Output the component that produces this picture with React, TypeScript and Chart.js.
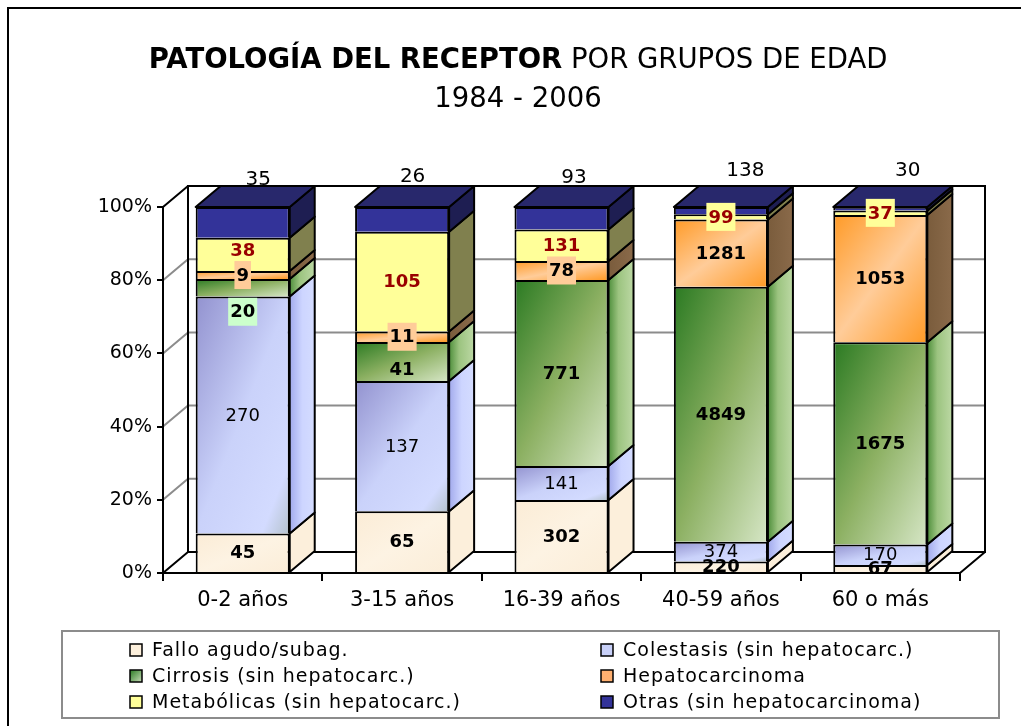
import { useEffect, useRef } from 'react';
import { Chart, registerables } from 'chart.js';

Chart.register(...registerables);

// ---------- data ----------
const categories = ['0-2 años', '3-15 años', '16-39 años', '40-59 años', '60 o más'];
const fallo = [45, 65, 302, 220, 67];
const colestasis = [270, 137, 141, 374, 170];
const cirrosis = [20, 41, 771, 4849, 1675];
const hepatocarcinoma = [9, 11, 78, 1281, 1053];
const metabolicas = [38, 105, 131, 99, 37];
const otras = [35, 26, 93, 138, 30];
const seriesNames = [
  'Fallo agudo/subag.',
  'Colestasis (sin hepatocarc.)',
  'Cirrosis (sin hepatocarc.)',
  'Hepatocarcinoma',
  'Metabólicas (sin hepatocarc.)',
  'Otras (sin hepatocarcinoma)',
];
const seriesValues = [fallo, colestasis, cirrosis, hepatocarcinoma, metabolicas, otras];
const yTicks = [0, 20, 40, 60, 80, 100];
const titleBold = 'PATOLOGÍA DEL RECEPTOR';
const titleNormal = ' POR GRUPOS DE EDAD';
const subtitle = '1984 - 2006';

// ---------- derived (percent stacking) ----------
const totals = categories.map((_, i) => seriesValues.reduce((s, v) => s + v[i], 0));
const percents = seriesValues.map((v) => v.map((x, i) => (x / totals[i]) * 100));

// ---------- styles ----------
const FONT = '"DejaVu Sans", Verdana, sans-serif';
const DX = 25;
const DY = -21;
const BAR_PCT = 0.59;
type Stops = [number, string][];
const frontStops: Stops[] = [
  [[0, '#fbecd6'], [0.5, '#fdf3e3'], [1, '#fbedd8']],
  [[0, '#9292cf'], [0.5, '#cad2fa'], [0.85, '#d3dbff'], [1, '#b4c2cc']],
  [[0, '#2a7a22'], [0.5, '#8cb062'], [1, '#d6e6c6']],
  [[0, '#ff9a26'], [0.5, '#ffcc99'], [1, '#ff9a26']],
  [[0, '#ffff99'], [1, '#ffff99']],
  [[0, '#333399'], [1, '#333399']],
];
const sideStops: Stops[] = [
  [[0, '#fcefdb'], [1, '#fcefdb']],
  [[0, '#a2aaec'], [0.5, '#cdd5ff'], [1, '#d4dcff']],
  [[0, '#4f8f3c'], [0.4, '#9cc480'], [1, '#bcd8a4']],
  [[0, '#7a5c3c'], [1, '#8a6a4a']],
  [[0, '#80804e'], [1, '#80804e']],
  [[0, '#1e1e52'], [1, '#1e1e52']],
];
const topColor = '#28286c';
const legendColors = ['#fdf0dc', '#c8d0f8', '#3f8a36', '#ffb070', '#ffff99', '#333399'];
const labelFonts = [
  `bold 18px ${FONT}`,
  `18px ${FONT}`,
  `bold 18px ${FONT}`,
  `bold 18px ${FONT}`,
  `bold 18px ${FONT}`,
  `20px ${FONT}`,
];
const labelColors = ['#000', '#000', '#000', '#000', '#990000', '#000'];
const labelBoxColors = [null, null, '#ccffcc', '#ffcc99', '#ffff99', null];
const labelBoxed: number[][] = [[], [], [0], [0, 1, 2], [3, 4], []];
const labelNudgeY: number[][] = [
  [0, 0, 0, 0, 0],
  [0, 0, 0, 0, 0],
  [24, 8, 0, 0, 0],
  [0, 0, 0, 0, 0],
  [-4, 0, 0, 0, 0],
  [2, -1, 0, -7, -7],
];
const labelNudgeX = [3, -2, 0, 12, 15];

function grad(ctx: CanvasRenderingContext2D, x0: number, y0: number, x1: number, y1: number, stops: Stops) {
  const g = ctx.createLinearGradient(x0, y0, x1, y1);
  stops.forEach(([o, c]) => g.addColorStop(o, c));
  return g;
}

// "to bottom right" style gradient: iso-lines parallel to the anti-diagonal
function diagGrad(ctx: CanvasRenderingContext2D, l: number, t: number, w: number, h: number, stops: Stops) {
  const d = Math.sqrt(w * w + h * h) || 1;
  const len = (2 * w * h) / d;
  const ux = h / d;
  const uy = w / d;
  return grad(ctx, l, t, l + ux * len, t + uy * len, stops);
}

function poly(ctx: CanvasRenderingContext2D, pts: number[][], fill: any) {
  ctx.beginPath();
  ctx.moveTo(pts[0][0], pts[0][1]);
  for (let k = 1; k < pts.length; k++) ctx.lineTo(pts[k][0], pts[k][1]);
  ctx.closePath();
  ctx.fillStyle = fill;
  ctx.fill();
  ctx.stroke();
}

function frontFill(c: any, s: number) {
  const chart = c.chart;
  const area = chart.chartArea;
  if (!area || c.type !== 'data') return frontStops[s][1][1];
  const i = c.dataIndex;
  const xs = chart.scales.x;
  const ys = chart.scales.y;
  const w = ((xs.right - xs.left) / categories.length) * BAR_PCT;
  const cx = xs.getPixelForValue(i);
  let below = 0;
  for (let k = 0; k < s; k++) below += percents[k][i];
  const yTop = ys.getPixelForValue(below + percents[s][i]);
  const yBot = ys.getPixelForValue(below);
  return diagGrad(chart.ctx, cx - w / 2, yTop, w, Math.max(1, yBot - yTop), frontStops[s]);
}

const deco = {
  id: 'deco3d',
  beforeDraw(chart: any) {
    const ctx: CanvasRenderingContext2D = chart.ctx;
    const a = chart.chartArea;
    const ys = chart.scales.y;
    ctx.save();
    ctx.fillStyle = '#fff';
    ctx.fillRect(0, 0, chart.width, chart.height);
    // outer frame
    ctx.strokeStyle = '#000';
    ctx.lineWidth = 2;
    ctx.beginPath();
    ctx.moveTo(8, chart.height);
    ctx.lineTo(8, 8);
    ctx.lineTo(chart.width, 8);
    ctx.stroke();
    // title
    ctx.fillStyle = '#000';
    ctx.textBaseline = 'alphabetic';
    ctx.textAlign = 'left';
    ctx.font = `bold 27.5px ${FONT}`;
    const wb = ctx.measureText(titleBold).width;
    ctx.font = `27.5px ${FONT}`;
    const wn = ctx.measureText(titleNormal).width;
    const x0 = 518 - (wb + wn) / 2;
    ctx.font = `bold 27.5px ${FONT}`;
    ctx.fillText(titleBold, x0, 68);
    ctx.font = `27.5px ${FONT}`;
    ctx.fillText(titleNormal, x0 + wb, 68);
    ctx.textAlign = 'center';
    ctx.fillText(subtitle, 518, 107);
    // walls
    const L = a.left, R = a.right, T = a.top, B = a.bottom;
    ctx.lineCap = 'round';
    ctx.strokeStyle = '#8c8c8c';
    ctx.lineWidth = 2;
    for (const t of yTicks) {
      if (t === 0 || t === 100) continue;
      const py = ys.getPixelForValue(t);
      ctx.beginPath();
      ctx.moveTo(L, py);
      ctx.lineTo(L + DX, py + DY);
      ctx.lineTo(R + DX, py + DY);
      ctx.stroke();
    }
    ctx.strokeStyle = '#000';
    ctx.lineWidth = 2;
    ctx.strokeRect(L + DX, T + DY, R - L, B - T);
    ctx.beginPath();
    ctx.moveTo(L, T);
    ctx.lineTo(L + DX, T + DY);
    ctx.moveTo(L, B);
    ctx.lineTo(L + DX, B + DY);
    ctx.moveTo(R, B);
    ctx.lineTo(R + DX, B + DY);
    ctx.stroke();
    // legend
    ctx.strokeStyle = '#8c8c8c';
    ctx.lineWidth = 2;
    ctx.strokeRect(62, 631, 937, 87);
    const colX = [130, 601];
    const rowY = [650, 676, 702];
    ctx.font = `19px ${FONT}`;
    (ctx as any).letterSpacing = '1px';
    ctx.textAlign = 'left';
    ctx.textBaseline = 'middle';
    seriesNames.forEach((name, k) => {
      const bx = colX[k % 2];
      const by = rowY[Math.floor(k / 2)];
      ctx.fillStyle = k === 2 ? grad(ctx, bx, by - 6, bx + 12, by + 6, [[0, '#2a7a22'], [1, '#c8dcb8']]) : legendColors[k];
      ctx.fillRect(bx, by - 6, 12, 12);
      ctx.strokeStyle = '#000';
      ctx.lineWidth = 1.5;
      ctx.strokeRect(bx, by - 6, 12, 12);
      ctx.fillStyle = '#000';
      ctx.fillText(name, bx + 22, by + 1);
    });
    (ctx as any).letterSpacing = '0px';
    ctx.restore();
  },
  afterDatasetsDraw(chart: any) {
    const ctx: CanvasRenderingContext2D = chart.ctx;
    const n = seriesValues.length;
    ctx.save();
    ctx.strokeStyle = '#000';
    ctx.lineWidth = 2;
    ctx.lineJoin = 'round';
    for (let s = 0; s < n; s++) {
      const meta = chart.getDatasetMeta(s);
      meta.data.forEach((el: any) => {
        const { x, y, base, width } = el.getProps(['x', 'y', 'base', 'width'], true);
        const top = Math.min(y, base);
        const bot = Math.max(y, base);
        const l = x - width / 2;
        const r = x + width / 2;
        poly(ctx, [[r, top], [r + DX, top + DY], [r + DX, bot + DY], [r, bot]], grad(ctx, r, 0, r + DX, 0, sideStops[s]));
        if (s === n - 1) poly(ctx, [[l, top], [l + DX, top + DY], [r + DX, top + DY], [r, top]], topColor);
      });
    }
    // labels
    ctx.textAlign = 'center';
    ctx.textBaseline = 'middle';
    for (let s = 0; s < n; s++) {
      const meta = chart.getDatasetMeta(s);
      meta.data.forEach((el: any, i: number) => {
        const { x, y, base } = el.getProps(['x', 'y', 'base'], true);
        const txt = String(seriesValues[s][i]);
        ctx.font = labelFonts[s];
        let lx = x;
        let ly = (y + base) / 2 + labelNudgeY[s][i];
        if (s === n - 1) {
          lx = x + DX / 2 + labelNudgeX[i];
          ly = Math.min(y, base) + DY - 9 + labelNudgeY[s][i];
        }
        const box = labelBoxColors[s];
        if (box && labelBoxed[s].includes(i)) {
          const w = ctx.measureText(txt).width + 4;
          ctx.fillStyle = box;
          ctx.fillRect(lx - w / 2, ly - 14, w, 28);
        }
        ctx.fillStyle = labelColors[s];
        ctx.fillText(txt, lx, ly + 1);
      });
    }
    ctx.restore();
  },
};

export default function App() {
  const ref = useRef<HTMLCanvasElement>(null);
  useEffect(() => {
    if (!ref.current) return;
    Chart.defaults.font.family = FONT;
    const chart = new Chart(ref.current, {
      type: 'bar',
      data: {
        labels: categories,
        datasets: seriesNames.map((name, s) => ({
          label: name,
          data: percents[s],
          backgroundColor: (c: any) => frontFill(c, s),
          borderColor: '#000',
          borderWidth: 2,
          borderSkipped: 'start',
          barPercentage: BAR_PCT,
          categoryPercentage: 1,
        })),
      },
      options: {
        responsive: false,
        animation: false,
        devicePixelRatio: 1,
        layout: { padding: { left: 83, right: 61, top: 207, bottom: 113 } },
        plugins: {
          legend: { display: false },
          title: { display: false },
          tooltip: { enabled: false },
        },
        scales: {
          x: {
            stacked: true,
            offset: true,
            grid: { display: true, drawOnChartArea: false, drawTicks: true, tickLength: 8, color: '#000', lineWidth: 2, offset: true },
            border: { display: true, color: '#000', width: 2 },
            ticks: { color: '#000', font: { family: FONT, size: 21 }, padding: 7, maxRotation: 0 },
            afterFit: (sc: any) => { sc.height = 40; },
          },
          y: {
            stacked: true,
            min: 0,
            max: 100,
            grid: { display: true, drawOnChartArea: false, drawTicks: true, tickLength: 6, color: '#000', lineWidth: 2 },
            border: { display: true, color: '#000', width: 2 },
            ticks: { stepSize: 20, color: '#000', font: { family: FONT, size: 19 }, padding: 5, callback: (v: any) => `${v}%` },
            afterFit: (sc: any) => { sc.width = 80; },
          },
        },
      },
      plugins: [deco],
    } as any);
    return () => chart.destroy();
  }, []);
  return (
    <div style={{ position: 'absolute', left: 0, top: 0, width: 1021, height: 726, background: '#fff' }}>
      <canvas ref={ref} width={1021} height={726} style={{ display: 'block', width: 1021, height: 726 }} />
    </div>
  );
}
